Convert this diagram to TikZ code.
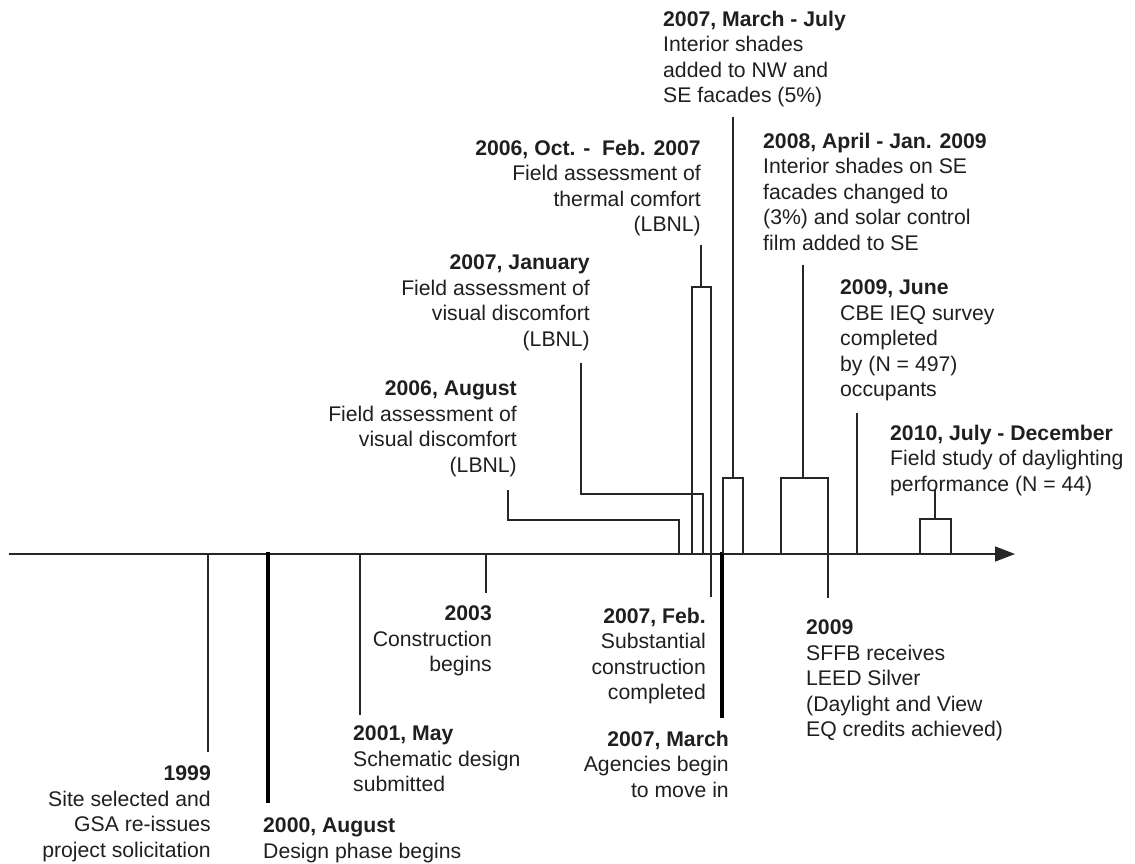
\documentclass[tikz,border=0pt]{standalone}
\usepackage{fontspec}
\setmainfont{Liberation Sans}
\usetikzlibrary{arrows.meta}
\begin{document}
\begin{tikzpicture}[x=1pt,y=-1pt,
  lbl/.style={inner sep=0pt, font=\fontsize{21.2}{25.5}\selectfont, text=black!88},
  lblL/.style={lbl, align=left, anchor=north west},
  lblR/.style={lbl, align=right, anchor=north east},
  thin/.style={line width=1.3pt, black!85},
  thick/.style={line width=4pt, black},
  axis/.style={line width=1.5pt, black!85, -{Triangle[length=20pt,width=15pt]}}]
\useasboundingbox (0,0) rectangle (1135,863);

% axis
\coordinate (a0) at (9,554);
\coordinate (a1) at (1015,554);
\draw[axis] (a0) -- (a1);

% below-axis ticks
\draw[thin] (208,554) -- (208,752);
\draw[thick] (268,552) -- (268,803);
\draw[thin] (360,554) -- (360,715);
\draw[thin] (486,554) -- (486,593);
\draw[thick] (722,552) -- (722,718);

% Aug 2006 connector
\draw[thin] (508,490) -- (508,520) -- (679,520) -- (679,554);
% Jan 2007 connector
\draw[thin] (581,363) -- (581,494) -- (703,494) -- (703,554);
% Oct 2006 - Feb 2007 box, right edge continues to Feb 2007
\draw[thin] (692,554) -- (692,287) -- (711,287) -- (711,597);
\draw[thin] (701,245) -- (701,287);
% March - July 2007 box
\draw[thin] (723,554) -- (723,478) -- (743,478) -- (743,554);
\draw[thin] (733,117) -- (733,478);
% 2008 box, right edge continues to 2009
\draw[thin] (781,554) -- (781,478) -- (828,478) -- (828,598);
\draw[thin] (803,265) -- (803,478);
% June 2009
\draw[thin] (857,413) -- (857,554);
% 2010 box
\draw[thin] (920,554) -- (920,519) -- (951,519) -- (951,554);
\draw[thin] (935,490) -- (935,519);

% labels above
\node[lblL] (mj) at (663,10.5) {\textbf{2007, March - July}\\Interior shades\\added to NW and\\SE facades (5\%)};
\node[lblR] (of) at (701,139.5) {\textbf{2006, Oct. -\ \ Feb. 2007}\\Field assessment of\\thermal comfort\\(LBNL)};
\node[lblL] (ap) at (763,132.5) {\textbf{2008, April - Jan. 2009}\\Interior shades on SE\\facades changed to\\(3\%) and solar control\\film added to SE};
\node[lblR] (ja) at (590,254.5) {\textbf{2007, January}\\Field assessment of\\visual discomfort\\(LBNL)};
\node[lblL] (ju) at (840,279.5) {\textbf{2009, June}\\CBE IEQ survey\\completed\\by (N = 497)\\occupants};
\node[lblR] (au) at (517,380.5) {\textbf{2006, August}\\Field assessment of\\visual discomfort\\(LBNL)};
\node[lblL] (de) at (890,424.5) {\textbf{2010, July - December}\\Field study of daylighting\\performance (N = 44)};

% labels below
\node[lblR] (y99) at (211,765.5) {\textbf{1999}\\Site selected and\\GSA re-issues\\project solicitation};
\node[lblL] (y00) at (263,817.5) {\textbf{2000, August}\\Design phase begins};
\node[lblL] (y01) at (353,725.5) {\textbf{2001, May}\\Schematic design\\submitted};
\node[lblR] (y03) at (492,605.5) {\textbf{2003}\\Construction\\begins};
\node[lblR] (fe) at (706,607.5) {\textbf{2007, Feb.}\\Substantial\\construction\\completed};
\node[lblR] (ma) at (729,730.5) {\textbf{2007, March}\\Agencies begin\\to move in};
\node[lblL] (y09) at (806,619.5) {\textbf{2009}\\SFFB receives\\LEED Silver\\(Daylight and View\\EQ credits achieved)};
\end{tikzpicture}
\end{document}
